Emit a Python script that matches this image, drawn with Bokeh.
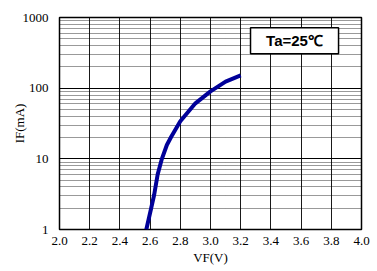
from bokeh.plotting import figure
from bokeh.models import FixedTicker, PrintfTickFormatter, Label
from bokeh.embed import file_html
from bokeh.resources import INLINE

# Data
vf = [2.575, 2.607, 2.627, 2.650, 2.678, 2.711, 2.740, 2.800, 2.900, 3.000, 3.100, 3.200]
if_ma = [1, 2, 3.1, 6, 10, 15.7, 20.5, 34, 61, 90, 124, 152]

x_ticks = [2.0, 2.2, 2.4, 2.6, 2.8, 3.0, 3.2, 3.4, 3.6, 3.8, 4.0]
y_ticks = [1, 10, 100, 1000]
y_minor = [m * d for d in (1, 10, 100) for m in range(2, 10)]
y_labels = {1: "1", 10: "10", 100: "100", 1000: "1000"}

note_text = "Ta=25\u2103"
note_box = dict(left=3.265, right=3.848, bottom=307, top=716)

p = figure(width=372, height=270, x_range=(2.0, 4.0), y_range=(1, 1000),
           y_axis_type="log", output_backend="svg", toolbar_location=None,
           min_border_left=59, min_border_right=11, min_border_top=17,
           min_border_bottom=41)
p.border_fill_color = "white"

p.outline_line_color = "black"
p.outline_line_width = 1.5
p.background_fill_color = "white"

p.xaxis.ticker = FixedTicker(ticks=x_ticks)
p.xaxis.formatter = PrintfTickFormatter(format="%.1f")
p.yaxis.ticker = FixedTicker(ticks=y_ticks, minor_ticks=y_minor)
p.yaxis.major_label_overrides = y_labels
p.xgrid.ticker = FixedTicker(ticks=x_ticks)
p.ygrid.ticker = FixedTicker(ticks=y_ticks, minor_ticks=y_minor)

for ax in (p.xaxis, p.yaxis):
    ax.axis_line_color = None
    ax.major_tick_line_color = None
    ax.minor_tick_line_color = None
    ax.major_tick_out = 0
    ax.major_tick_in = 0
    ax.minor_tick_out = 0
    ax.minor_tick_in = 0
    ax.major_label_text_font = "Liberation Serif"
    ax.major_label_text_font_size = "13px"
    ax.major_label_text_color = "black"
    ax.axis_label_text_font = "Liberation Serif"
    ax.axis_label_text_font_size = "13px"
    ax.axis_label_text_font_style = "normal"
    ax.axis_label_text_color = "black"

p.xaxis.axis_label = "VF(V)"
p.yaxis.axis_label = "IF(mA)"
p.xaxis.major_label_standoff = 7
p.yaxis.major_label_standoff = 11
p.xaxis.axis_label_standoff = 2
p.yaxis.axis_label_standoff = -7

p.xgrid.grid_line_color = "black"
p.xgrid.grid_line_width = 1
p.xgrid.grid_line_alpha = 0.9
p.ygrid.grid_line_color = "black"
p.ygrid.grid_line_width = 1.2
p.ygrid.minor_grid_line_color = "black"
p.ygrid.minor_grid_line_dash = "1 1"
p.ygrid.minor_grid_line_width = 1
p.ygrid.minor_grid_line_alpha = 0.8

p.line(vf, if_ma, line_color="#000099", line_width=4, line_join="round")

p.quad(left=[note_box["left"]], right=[note_box["right"]],
       bottom=[note_box["bottom"]], top=[note_box["top"]],
       fill_color="white", line_color="black", line_width=1.5)
cx = (note_box["left"] + note_box["right"]) / 2
cy = (note_box["bottom"] * note_box["top"]) ** 0.5
p.add_layout(Label(x=cx, y=cy, text=note_text, text_align="center",
                   text_baseline="middle", text_font="Liberation Sans",
                   text_font_size="15px", text_font_style="bold",
                   text_color="black"))

open("out.html", "w").write(file_html(p, INLINE))
